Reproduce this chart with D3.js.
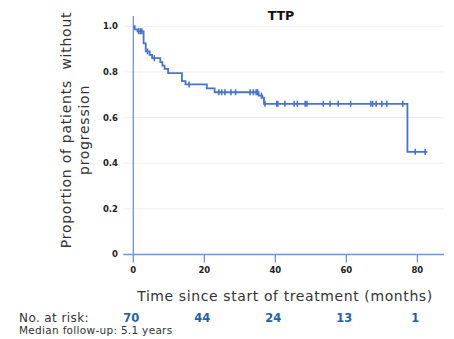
<!DOCTYPE html>
<html>
<head>
<meta charset="utf-8">
<script src="https://cdn.jsdelivr.net/npm/d3@7"></script>
<style>
  body { margin: 0; background: #fff; }
  svg { font-family: "DejaVu Sans", sans-serif; }
  .pre { white-space: pre; }
</style>
</head>
<body>
<script>
// Kaplan-Meier step curve: time (months) where the level starts, and level
var stepTimes = [0, 0.4, 1.2, 2.9, 3.5, 4.6, 5.3, 7.6, 8.2, 8.8, 9.8, 13.7, 14.7, 20.7, 22.9, 35.3, 36.3, 36.8, 77.2];
var stepLevels = [1.0, 0.986, 0.978, 0.925, 0.89, 0.875, 0.86, 0.843, 0.828, 0.813, 0.795, 0.76, 0.745, 0.728, 0.711, 0.696, 0.687, 0.66, 0.45];
var lastTime = 82.8;
// censored patients (months)
var censorTimes = [1.5, 2.0, 2.4, 4.0, 5.9, 15.7, 24.1, 24.9, 25.8, 27.5, 28.8, 32.9, 33.8, 34.6, 35.0, 36.1, 37.1,
  40.4, 40.7, 42.7, 45.3, 46.2, 48.4, 48.9, 53.5, 55.4, 57.7, 61.2, 66.9, 67.4, 68.4, 70.0, 71.4, 75.9, 79.4, 82.2];
var xTicks = [0, 20, 40, 60, 80];
var yTicks = [0, 0.2, 0.4, 0.6, 0.8, 1.0];
var yTickLabels = ["0", "0.2", "0.4", "0.6", "0.8", "1.0"];
var atRiskTimes = [0, 20, 40, 60, 80];
var atRiskCounts = [70, 44, 24, 13, 1];

var W = 454, H = 339;
var lineBlue = "#4674cc", axisBlue = "#6f93d8", riskBlue = "#1f62a8";

var svg = d3.select("body").append("svg")
    .attr("width", W)
    .attr("height", H);

var x = d3.scaleLinear().domain([0, 87.5]).range([133.3, 444]);
var y = d3.scaleLinear().domain([0, 1.045]).range([254.5, 16]);

// gridlines + light tick stubs on the left
svg.append("g").selectAll("line")
    .data(yTicks.filter(function(d) { return d > 0; }))
  .enter().append("line")
    .attr("x1", x(0) - 9).attr("x2", x(87.5))
    .attr("y1", function(d) { return y(d); })
    .attr("y2", function(d) { return y(d); })
    .attr("stroke", "#eeeeee")
    .attr("stroke-width", 1);

// y tick labels
svg.append("g").selectAll("text")
    .data(yTicks)
  .enter().append("text")
    .attr("x", 118)
    .attr("y", function(d) { return y(d); })
    .attr("dy", "0.35em")
    .attr("text-anchor", "end")
    .attr("font-size", 8.5)
    .attr("font-weight", "bold")
    .attr("fill", "#222")
    .text(function(d, i) { return yTickLabels[i]; });

// axes lines
svg.append("line")
    .attr("x1", x(0)).attr("x2", x(0))
    .attr("y1", y(1.045)).attr("y2", y(0))
    .attr("stroke", axisBlue).attr("stroke-width", 1.3);
svg.append("line")
    .attr("x1", x(0) - 10).attr("x2", x(87.5))
    .attr("y1", y(0)).attr("y2", y(0))
    .attr("stroke", axisBlue).attr("stroke-width", 1.3);

// x ticks and labels
var xt = svg.append("g").selectAll("g")
    .data(xTicks)
  .enter().append("g")
    .attr("transform", function(d) { return "translate(" + x(d) + ",0)"; });
xt.append("line")
    .attr("y1", y(0)).attr("y2", y(0) + 8)
    .attr("stroke", axisBlue).attr("stroke-width", 1.3);
xt.append("text")
    .attr("y", 273)
    .attr("text-anchor", "middle")
    .attr("font-size", 8.5)
    .attr("font-weight", "bold")
    .attr("fill", "#222")
    .text(function(d) { return d; });

// survival curve
var pts = [];
stepTimes.forEach(function(t, i) {
    if (i > 0) pts.push([t, stepLevels[i - 1]]);
    pts.push([t, stepLevels[i]]);
});
pts.push([lastTime, stepLevels[stepLevels.length - 1]]);

var line = d3.line()
    .x(function(d) { return x(d[0]); })
    .y(function(d) { return y(d[1]); });

svg.append("path")
    .datum(pts)
    .attr("d", line)
    .attr("fill", "none")
    .attr("stroke", lineBlue)
    .attr("stroke-width", 1.8);

function levelAt(t) {
    var idx = d3.bisectRight(stepTimes, t) - 1;
    return stepLevels[Math.max(idx, 0)];
}

svg.append("g").selectAll("line")
    .data(censorTimes)
  .enter().append("line")
    .attr("x1", function(d) { return x(d); })
    .attr("x2", function(d) { return x(d); })
    .attr("y1", function(d) { return y(levelAt(d)) - 3; })
    .attr("y2", function(d) { return y(levelAt(d)) + 3; })
    .attr("stroke", lineBlue)
    .attr("stroke-width", 1.6);

// title
svg.append("text")
    .attr("x", 281).attr("y", 20)
    .attr("text-anchor", "middle")
    .attr("font-size", 12.5)
    .attr("font-weight", "bold")
    .attr("fill", "#111")
    .text("TTP");

// y axis title (two lines)
var yTitle = svg.append("text")
    .attr("class", "pre")
    .attr("transform", "translate(0,130) rotate(-90)")
    .attr("text-anchor", "middle")
    .attr("font-size", 14)
    .attr("letter-spacing", 0.75)
    .attr("fill", "#333");
yTitle.append("tspan").attr("x", 0).attr("y", 71).text("Proportion of patients  without");
yTitle.append("tspan").attr("x", 0).attr("y", 89).text("progression");

// x axis title
svg.append("text")
    .attr("x", 285).attr("y", 301)
    .attr("text-anchor", "middle")
    .attr("font-size", 14)
    .attr("letter-spacing", 0.6)
    .attr("fill", "#333")
    .text("Time since start of treatment (months)");

// number at risk row
svg.append("text")
    .attr("x", 19).attr("y", 322)
    .attr("font-size", 12)
    .attr("letter-spacing", 0.4)
    .attr("fill", "#333")
    .text("No. at risk:");

svg.append("g").selectAll("text")
    .data(atRiskCounts)
  .enter().append("text")
    .attr("x", function(d, i) { return x(atRiskTimes[i]) - 2; })
    .attr("y", 322)
    .attr("text-anchor", "middle")
    .attr("font-size", 11.5)
    .attr("font-weight", "bold")
    .attr("fill", riskBlue)
    .text(function(d) { return d; });

svg.append("text")
    .attr("x", 19).attr("y", 334)
    .attr("font-size", 10.5)
    .attr("letter-spacing", 0.3)
    .attr("fill", "#333")
    .text("Median follow-up: 5.1 years");
</script>
</body>
</html>
